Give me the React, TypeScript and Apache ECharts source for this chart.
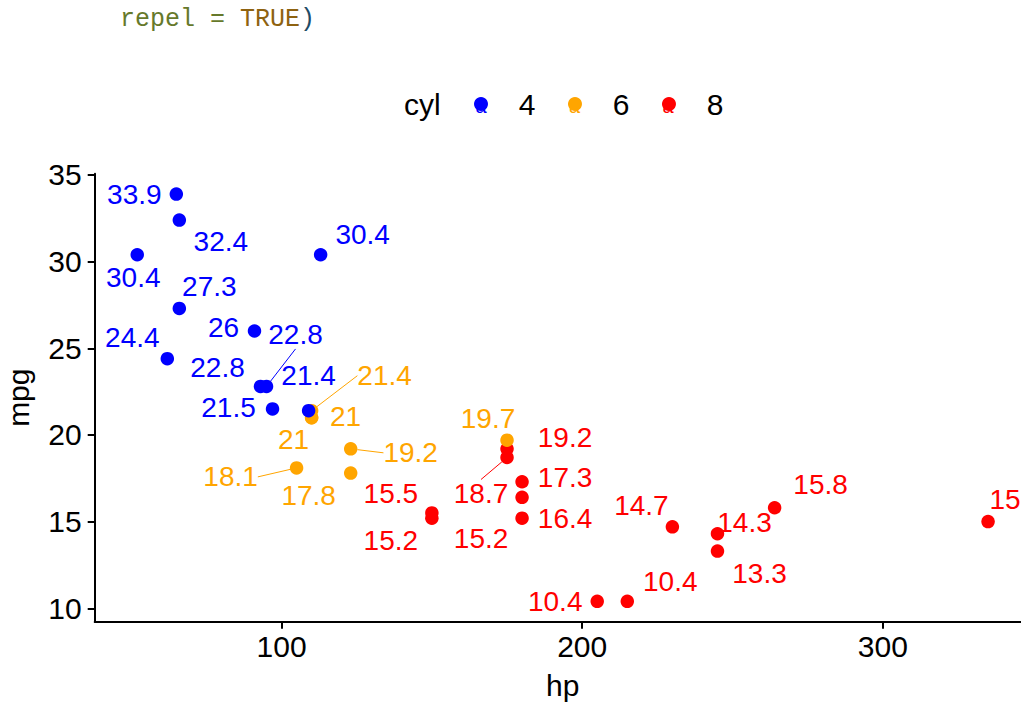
import React, { useEffect, useRef } from "react";
import * as echarts from "echarts";

// mtcars: hp vs mpg, coloured by cyl
const carNames = [
  "Mazda RX4", "Mazda RX4 Wag", "Datsun 710", "Hornet 4 Drive", "Hornet Sportabout",
  "Valiant", "Duster 360", "Merc 240D", "Merc 230", "Merc 280", "Merc 280C",
  "Merc 450SE", "Merc 450SL", "Merc 450SLC", "Cadillac Fleetwood", "Lincoln Continental",
  "Chrysler Imperial", "Fiat 128", "Honda Civic", "Toyota Corolla", "Toyota Corona",
  "Dodge Challenger", "AMC Javelin", "Camaro Z28", "Pontiac Firebird", "Fiat X1-9",
  "Porsche 914-2", "Lotus Europa", "Ford Pantera L", "Ferrari Dino", "Maserati Bora", "Volvo 142E",
];
const hp = [110, 110, 93, 110, 175, 105, 245, 62, 95, 123, 123, 180, 180, 180, 205, 215, 230, 66, 52, 65, 97, 150, 150, 245, 175, 66, 91, 113, 264, 175, 335, 109];
const mpg = [21.0, 21.0, 22.8, 21.4, 18.7, 18.1, 14.3, 24.4, 22.8, 19.2, 17.8, 16.4, 17.3, 15.2, 10.4, 10.4, 14.7, 32.4, 30.4, 33.9, 21.5, 15.5, 15.2, 13.3, 19.2, 27.3, 26.0, 30.4, 15.8, 19.7, 15.0, 21.4];
const cyl = ["6", "6", "4", "6", "8", "6", "8", "4", "4", "6", "6", "8", "8", "8", "8", "8", "8", "4", "4", "4", "4", "8", "8", "8", "8", "4", "4", "4", "8", "6", "8", "4"];

const cylLevels = ["4", "6", "8"];
const cylColors = ["#0000FF", "#FFA500", "#FF0000"];
const xTicks = [100, 200, 300];
const yTicks = [10, 15, 20, 25, 30, 35];

// repelled label displacement (px) relative to each point, same order as carNames
const labelNudge: [number, number][] = [
  [34, -1.5], [-18, 22], [-43, -19], [73, -35], [-26, 36],
  [-66, 9], [27, -11], [-35, -21], [29, -51.5], [60, 4], [-42, 22],
  [43, 21], [43, -4], [-41, 20], [-42, 0], [43, -20],
  [-31, -21], [41.5, 21.5], [-4, 23], [-42, 0], [-44, -1],
  [-41, -19], [-41, 22], [42, 22], [58, -11], [30, -22],
  [-31, -3], [42, -20], [46, -23], [-19, -22], [17, -22], [0, -35],
];
const withSegment = ["Merc 230", "Hornet 4 Drive", "Merc 280", "Valiant", "Hornet Sportabout"];

const FONT = "Liberation Sans, Arial, Helvetica, sans-serif";
const MONO = "Liberation Mono, monospace";

// legend geometry
const LEGEND_LEFT = 474;
const LEGEND_TOP = 89;
const LEGEND_STEP = 93.5;

export default function App() {
  const ref = useRef<HTMLDivElement>(null);
  useEffect(() => {
    if (!ref.current) return;
    const chart = echarts.init(ref.current, undefined, { renderer: "svg" });

    const series = [2, 1, 0].map((li) => {
      const level = cylLevels[li];
      const color = cylColors[li];
      const idx = carNames.map((_, i) => i).filter((i) => cyl[i] === level);
      return {
        type: "scatter",
        name: level,
        symbol: "circle",
        symbolSize: 13.5,
        itemStyle: { color, opacity: 1 },
        emphasis: { disabled: true },
        data: idx.map((i) => ({
          name: carNames[i],
          value: [hp[i], mpg[i]],
          labelLine: { show: withSegment.indexOf(carNames[i]) >= 0 },
        })),
        label: {
          show: true,
          position: "inside",
          formatter: (p: any) => String(p.value[1]),
          color,
          fontSize: 28,
          fontFamily: FONT,
          textBorderWidth: 0,
          textBorderColor: "transparent",
        },
        labelLine: { show: false, lineStyle: { color, width: 1 } },
        labelLayout: (p: any) => {
          const i = idx[p.dataIndex];
          return { dx: labelNudge[i][0], dy: labelNudge[i][1] };
        },
      };
    });

    const legendKeyLetters = cylLevels.map((lv, k) => ({
      type: "text",
      z: 3,
      x: LEGEND_LEFT + 7 + k * LEGEND_STEP,
      y: LEGEND_TOP + 17,
      style: {
        text: "a",
        fontSize: 20,
        fill: cylColors[k],
        align: "center",
        verticalAlign: "middle",
        fontFamily: FONT,
      },
    }));

    chart.setOption({
      animation: false,
      backgroundColor: "#ffffff",
      grid: {
        left: 94.7,
        width: 935.9,
        top: 173.7,
        height: 448,
        containLabel: false,
        outerBoundsMode: "none",
      },
      xAxis: {
        type: "value",
        min: 37.85,
        max: 349.15,
        name: "hp",
        nameLocation: "middle",
        nameGap: 49,
        nameTextStyle: { fontSize: 30, color: "#000", fontFamily: FONT },
        axisLine: { show: true, onZero: false, lineStyle: { color: "#000", width: 2 } },
        axisTick: { show: true, length: 7, customValues: xTicks, lineStyle: { color: "#000", width: 2 } },
        axisLabel: { customValues: xTicks, fontSize: 30, color: "#000", margin: 10, fontFamily: FONT },
        splitLine: { show: false },
      },
      yAxis: {
        type: "value",
        min: 9.225,
        max: 35.075,
        name: "mpg",
        nameLocation: "middle",
        nameGap: 61,
        nameTextStyle: { fontSize: 30, color: "#000", fontFamily: FONT },
        axisLine: { show: true, onZero: false, lineStyle: { color: "#000", width: 2 } },
        axisTick: { show: true, length: 7, customValues: yTicks, lineStyle: { color: "#000", width: 2 } },
        axisLabel: { customValues: yTicks, fontSize: 30, color: "#000", margin: 13, fontFamily: FONT },
        splitLine: { show: false },
      },
      legend: {
        data: cylLevels,
        left: LEGEND_LEFT,
        top: LEGEND_TOP,
        orient: "horizontal",
        icon: "circle",
        itemWidth: 14,
        itemHeight: 14,
        itemGap: 32.6,
        padding: 0,
        z: 5,
        selectedMode: false,
        textStyle: { fontSize: 30, color: "#000", padding: [0, 0, 0, 25.7], fontFamily: FONT },
      },
      graphic: [
        {
          type: "text",
          x: 120,
          y: 19,
          style: {
            text: "{a|repel = }{b|TRUE}{c|)}",
            verticalAlign: "middle",
            rich: {
              a: { fontFamily: MONO, fontSize: 25, fill: "#66792b", color: "#66792b" },
              b: { fontFamily: MONO, fontSize: 25, fill: "#8e6210", color: "#8e6210" },
              c: { fontFamily: MONO, fontSize: 25, fill: "#1e4b66", color: "#1e4b66" },
            },
          },
        },
        {
          type: "text",
          x: 404,
          y: 104,
          style: { text: "cyl", fontSize: 30, fill: "#000", verticalAlign: "middle", fontFamily: FONT },
        },
        ...legendKeyLetters,
      ],
      series,
    });

    return () => chart.dispose();
  }, []);

  return (
    <div
      ref={ref}
      style={{ position: "fixed", left: 0, top: 0, width: 1021, height: 705, background: "#fff" }}
    />
  );
}
